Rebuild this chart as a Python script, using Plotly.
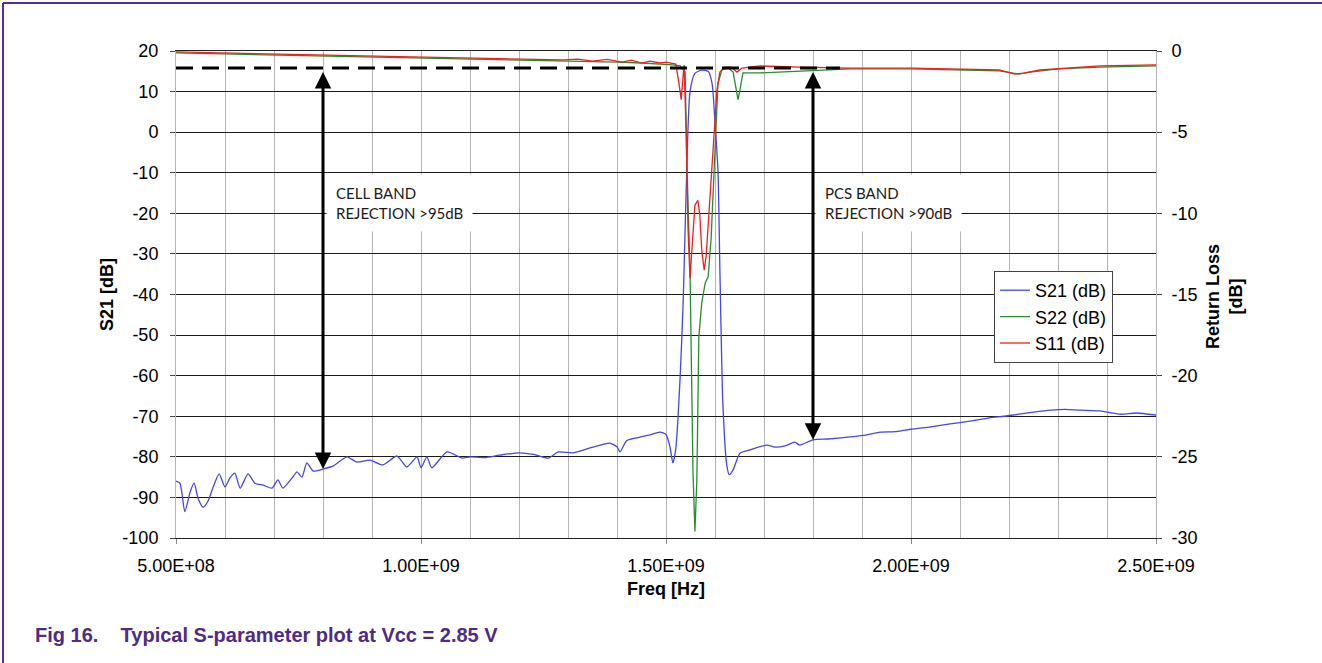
import plotly.graph_objects as go

# ---------------- data ----------------
# S21 [dB] (left axis)
s21_freq_mhz = [500, 508, 518, 529, 537, 545, 555, 565, 576, 588, 600, 610, 620, 631, 647, 661,
                678, 696, 708, 718, 737, 747, 757, 767, 780, 800, 820, 849, 869, 896, 922, 951,
                971, 992, 1000, 1012, 1022, 1053, 1084, 1100, 1130, 1160, 1200, 1230, 1260, 1280,
                1310, 1345, 1370, 1385, 1400, 1406, 1420, 1445, 1467, 1488, 1500, 1508, 1514,
                1520, 1529, 1535, 1541, 1549, 1559, 1573, 1586, 1594, 1600, 1606, 1610, 1616,
                1624, 1629, 1637, 1651, 1671, 1706, 1722, 1743, 1763, 1773, 1800, 1830, 1876,
                1910, 1937, 1970, 2000, 2040, 2080, 2120, 2160, 2190, 2220, 2250, 2284, 2315,
                2345, 2386, 2427, 2460, 2500]
s21_db = [-86.0, -86.5, -93.5, -88.6, -86.5, -90.2, -92.4, -91.0, -87.4, -84.2, -87.4, -85.2,
          -84.0, -87.7, -84.2, -86.5, -87.0, -87.7, -85.7, -87.7, -85.2, -83.7, -85.0, -81.5,
          -83.5, -83.0, -82.3, -80.0, -81.3, -80.8, -82.0, -79.8, -82.5, -80.0, -82.7, -80.0,
          -82.7, -78.8, -80.3, -80.0, -80.2, -79.6, -79.0, -79.4, -80.3, -78.8, -79.0, -77.8,
          -77.0, -76.6, -77.5, -78.8, -76.0, -75.2, -74.6, -73.9, -74.5, -77.5, -81.5, -78.0,
          -60.0, -42.0, -15.0, 10.0, 14.5, 15.3, 15.0, 12.0, 2.3, -9.3, -34.0, -66.7, -82.0,
          -84.4, -83.2, -79.1, -78.3, -77.1, -77.6, -77.3, -76.4, -77.1, -75.8, -75.6, -75.1,
          -74.6, -73.9, -73.8, -73.2, -72.6, -71.9, -71.2, -70.4, -70.0, -69.5, -69.0, -68.5,
          -68.3, -68.5, -68.7, -69.5, -69.2, -69.7]

# S22 [dB] (right axis, return loss)
s22_freq_mhz = [500, 600, 700, 800, 900, 1000, 1100, 1200, 1290, 1350, 1400, 1450, 1488, 1514,
                1529, 1539, 1543, 1549, 1552, 1555, 1559, 1563, 1567, 1570, 1573, 1580, 1586,
                1592, 1596, 1600, 1606, 1614, 1627, 1637, 1643, 1647, 1651, 1657, 1692, 1773,
                1876, 2000, 2100, 2180, 2220, 2243, 2300, 2386, 2500]
s22_db = [-0.12, -0.18, -0.24, -0.31, -0.38, -0.45, -0.49, -0.55, -0.62, -0.66, -0.68, -0.74,
          -0.80, -0.86, -0.92, -1.3, -7.3, -13.5, -19.6, -25.8, -29.6, -26.4, -17.6, -16.2,
          -15.5, -14.3, -13.9, -11.6, -8.6, -6.1, -2.0, -1.17, -1.05, -1.3, -2.4, -3.0, -2.4,
          -1.35, -1.35, -1.23, -1.1, -1.1, -1.17, -1.23, -1.42, -1.3, -1.1, -0.99, -0.92]

# S11 [dB] (right axis, return loss)
s11_freq_mhz = [500, 600, 700, 800, 900, 1000, 1100, 1200, 1290, 1320, 1350, 1380, 1410, 1430,
                1450, 1467, 1488, 1500, 1520, 1527, 1531, 1535, 1537, 1541, 1545, 1549, 1553,
                1559, 1565, 1569, 1573, 1578, 1582, 1588, 1594, 1598, 1604, 1610, 1620, 1633,
                1645, 1655, 1692, 1773, 1876, 2000, 2100, 2180, 2212, 2230, 2263, 2386, 2500]
s11_db = [-0.06, -0.12, -0.18, -0.25, -0.31, -0.37, -0.43, -0.49, -0.55, -0.50, -0.62, -0.52,
          -0.68, -0.56, -0.74, -0.62, -0.74, -0.68, -0.80, -2.1, -3.0, -1.5, -0.86, -4.9,
          -11.0, -14.0, -12.3, -9.5, -9.2, -10.1, -12.3, -13.5, -12.6, -9.8, -7.3, -4.9, -2.4,
          -1.3, -0.99, -0.99, -1.3, -1.05, -0.92, -0.99, -1.05, -1.05, -1.1, -1.17, -1.42,
          -1.36, -1.17, -0.92, -0.86]

# reference (pass-band gain) level and band rejection markers
passband_level_db = 15.8
passband_line_end_mhz = 1855
cell_band_mhz = 800
cell_band_bottom_db = -83.0
pcs_band_mhz = 1800
pcs_band_bottom_db = -75.8
cell_label = "CELL BAND<br>REJECTION >95dB"
pcs_label = "PCS BAND<br>REJECTION >90dB"

x_tick_vals = [5.0e8, 1.0e9, 1.5e9, 2.0e9, 2.5e9]
x_tick_text = ["5.00E+08", "1.00E+09", "1.50E+09", "2.00E+09", "2.50E+09"]
y_left_ticks = list(range(-100, 21, 10))
y_left_text = [str(v) for v in y_left_ticks]
y_right_ticks = list(range(-30, 1, 5))
y_right_text = [str(v) for v in y_right_ticks]

caption = "Fig 16.&nbsp;&nbsp;&nbsp;&nbsp;Typical S-parameter plot at Vcc = 2.85 V"

# ---------------- figure ----------------
MHZ = 1e6
W, H = 1322, 663
L, R, T, B = 176, 1156, 51, 538


def px(xp):
    return (xp - L) / (R - L)


def py(yp):
    return (B - yp) / (B - T)


fig = go.Figure()
fig.add_trace(go.Scatter(x=[f * MHZ for f in s21_freq_mhz], y=s21_db, name="S21 (dB)",
                         mode="lines", line=dict(color="rgb(70,70,225)", width=1.3, shape="spline", smoothing=0.6),
                         yaxis="y"))
fig.add_trace(go.Scatter(x=[f * MHZ for f in s22_freq_mhz], y=s22_db, name="S22 (dB)",
                         mode="lines", line=dict(color="rgb(40,140,50)", width=1.3),
                         yaxis="y2"))
fig.add_trace(go.Scatter(x=[f * MHZ for f in s11_freq_mhz], y=s11_db, name="S11 (dB)",
                         mode="lines", line=dict(color="rgb(240,30,30)", width=1.3),
                         yaxis="y2"))

tickfont = dict(family="Arial, Liberation Sans, sans-serif", size=18, color="black")

fig.update_layout(
    width=W, height=H,
    margin=dict(l=L, r=W - R, t=T, b=H - B),
    paper_bgcolor="white", plot_bgcolor="white",
    showlegend=True,
    legend=dict(x=px(994), y=py(271), xanchor="left", yanchor="top",
                bgcolor="white", bordercolor="#444", borderwidth=1,
                font=dict(family="Arial, Liberation Sans, sans-serif", size=18, color="black"),
                itemwidth=30, tracegroupgap=2),
    xaxis=dict(range=[5.0e8, 2.5e9], tickvals=x_tick_vals, ticktext=x_tick_text,
               showgrid=True, gridcolor="#b5b5b5", gridwidth=1,
               minor=dict(dtick=1e8, tick0=5e8, showgrid=True, gridcolor="#b5b5b5", gridwidth=1),
               showline=True, linecolor="#222", linewidth=1, mirror=True,
               ticks="outside", ticklen=5, tickcolor="#888",
               tickfont=tickfont, ticklabelstandoff=6, zeroline=False),
    yaxis=dict(range=[-100, 20], tickvals=y_left_ticks, ticktext=y_left_text,
               showgrid=True, gridcolor="#1a1a1a", gridwidth=1,
               showline=True, linecolor="#b5b5b5", linewidth=1, mirror=True,
               ticks="outside", ticklen=5, tickcolor="#444",
               tickfont=tickfont, ticklabelstandoff=8, zeroline=False),
    yaxis2=dict(range=[-30, 0], tickvals=y_right_ticks, ticktext=y_right_text,
                overlaying="y", side="right",
                showgrid=False, showline=False, ticks="outside", ticklen=5, tickcolor="#444",
                tickfont=tickfont, ticklabelstandoff=6, zeroline=False),
)

# pass-band reference dashed line
fig.add_shape(type="line", xref="x", yref="y", x0=5.0e8, x1=passband_line_end_mhz * MHZ,
              y0=passband_level_db, y1=passband_level_db,
              line=dict(color="black", width=3, dash="17px,9px"))

# rejection arrows (double-headed)
for f, bottom in [(cell_band_mhz, cell_band_bottom_db), (pcs_band_mhz, pcs_band_bottom_db)]:
    fig.add_annotation(x=f * MHZ, y=bottom, ax=f * MHZ, ay=passband_level_db - 0.6,
                       xref="x", yref="y", axref="x", ayref="y", text="",
                       showarrow=True, arrowhead=2, startarrowhead=2, arrowside="end+start",
                       arrowwidth=3, arrowsize=1.1, startarrowsize=1.1, arrowcolor="black")

labelfont = dict(family="Lato, Open Sans, sans-serif", size=15, color="#1a1a1a")
fig.add_annotation(x=px(326), y=py(203), xref="paper", yref="paper", text=cell_label,
                   showarrow=False, xanchor="left", yanchor="middle", align="left",
                   bgcolor="white", borderpad=9, font=labelfont)
fig.add_annotation(x=px(815), y=py(203), xref="paper", yref="paper", text=pcs_label,
                   showarrow=False, xanchor="left", yanchor="middle", align="left",
                   bgcolor="white", borderpad=9, font=labelfont)

# axis titles
titlefont = dict(family="Arial, Liberation Sans, sans-serif", size=18, color="black")
fig.add_annotation(x=px(107), y=py(295), xref="paper", yref="paper", text="<b>S21 [dB]</b>",
                   textangle=-90, showarrow=False, xanchor="center", yanchor="middle", font=titlefont)
fig.add_annotation(x=px(666), y=py(589), xref="paper", yref="paper", text="<b>Freq [Hz]</b>",
                   showarrow=False, xanchor="center", yanchor="middle", font=titlefont)
fig.add_annotation(x=px(1224), y=py(297), xref="paper", yref="paper",
                   text="<b>Return Loss</b><br><b>[dB]</b>",
                   textangle=-90, showarrow=False, xanchor="center", yanchor="middle", font=titlefont)

# caption
fig.add_annotation(x=px(33), y=py(635), xref="paper", yref="paper", text="<b>" + caption + "</b>",
                   showarrow=False, xanchor="left", yanchor="middle",
                   font=dict(family="Arial, Liberation Sans, sans-serif", size=20, color="#4f2b86"))

# frame (top and left)
fig.add_shape(type="line", xref="paper", yref="paper", x0=px(3), x1=px(W + 5), y0=py(3), y1=py(3),
              line=dict(color="#5b2d90", width=2))
fig.add_shape(type="line", xref="paper", yref="paper", x0=px(3), x1=px(3), y0=py(3), y1=py(H + 5),
              line=dict(color="#5b2d90", width=2))

fig.write_html("out.html")
